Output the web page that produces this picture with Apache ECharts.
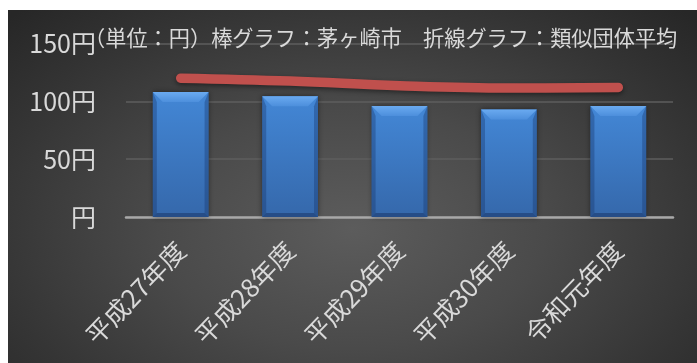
<!DOCTYPE html>
<html>
<head>
<meta charset="utf-8">
<script src="https://cdn.jsdelivr.net/npm/echarts@6/dist/echarts.min.js"></script>
<style>
  html, body { margin: 0; padding: 0; background: #ffffff; }
  #chart {
    position: absolute; left: 8px; top: 10px; width: 689px; height: 353px;
    background: radial-gradient(ellipse 70% 85% at 50% 62%, #5c5c5c 0%, #4a4a4a 40%, #353535 75%, #272727 100%);
  }
</style>
</head>
<body>
<div id="chart"></div>
<script>
// 年度
const categories = ['平成27年度', '平成28年度', '平成29年度', '平成30年度', '令和元年度'];
// 棒グラフ：茅ヶ崎市（円）
const chigasakiValues = [108, 104.5, 96, 93, 96];
// 折線グラフ：類似団体平均（円）
const similarAverage = [120, 117.5, 113.5, 111.5, 112];
// 縦軸の目盛
const yTicks = [0, 50, 100, 150];
const titleText = '（単位：円）棒グラフ：茅ヶ崎市　折線グラフ：類似団体平均';

const FONT = '"Noto Sans CJK JP", "Noto Sans", sans-serif';
const TEXT = '#d9d9d9';

const chart = echarts.init(document.getElementById('chart'), null, { renderer: 'canvas' });

// 立体風の棒（上面・側面の面取り付き）
function renderBevelBar(params, api) {
  const idx = api.value(0);
  const val = api.value(1);
  const top = api.coord([idx, val]);
  const base = api.coord([idx, 0]);
  const w = api.size([1, 0])[0] * 0.51;
  const x0 = top[0] - w / 2, x1 = top[0] + w / 2;
  const y0 = top[1], y1 = base[1];
  const bt = 10, bs = 4, bb = 4;
  return {
    type: 'group',
    children: [
      {
        type: 'rect',
        shape: { x: x0, y: y0, width: w, height: y1 - y0 },
        style: {
          fill: new echarts.graphic.LinearGradient(0, 0, 0, 1, [
            { offset: 0, color: '#4387d6' },
            { offset: 1, color: '#3568ab' }
          ]),
          shadowBlur: 5, shadowColor: 'rgba(0,0,0,0.45)'
        }
      },
      { // 左面
        type: 'polygon',
        shape: { points: [[x0, y0], [x0 + bs, y0 + bt], [x0 + bs, y1 - bb], [x0, y1]] },
        style: { fill: 'rgba(20,50,100,0.35)' }
      },
      { // 右面
        type: 'polygon',
        shape: { points: [[x1, y0], [x1 - bs, y0 + bt], [x1 - bs, y1 - bb], [x1, y1]] },
        style: { fill: 'rgba(20,50,100,0.35)' }
      },
      { // 下面
        type: 'polygon',
        shape: { points: [[x0, y1], [x0 + bs, y1 - bb], [x1 - bs, y1 - bb], [x1, y1]] },
        style: { fill: 'rgba(20,45,90,0.45)' }
      },
      { // 上面
        type: 'polygon',
        shape: { points: [[x0, y0], [x1, y0], [x1 - bt, y0 + bt], [x0 + bt, y0 + bt]] },
        style: {
          fill: new echarts.graphic.LinearGradient(0, 0, 0, 1, [
            { offset: 0, color: '#6aaaf0' },
            { offset: 1, color: '#4d8fdc' }
          ])
        }
      }
    ]
  };
}

chart.setOption({
  backgroundColor: 'transparent',
  animation: false,
  title: {
    text: titleText,
    left: 71,
    top: 11,
    textStyle: { color: TEXT, fontSize: 21.2, fontWeight: 'normal', fontFamily: FONT, lineHeight: 24 }
  },
  grid: { left: 118, right: 24, top: 33.5, bottom: 146 },
  xAxis: {
    type: 'category',
    data: categories,
    axisLine: { show: true, lineStyle: { color: '#a8a8a8', width: 2.5 } },
    axisTick: { show: false },
    splitLine: { show: false },
    axisLabel: {
      interval: 0,
      rotate: 46,
      margin: 29,
      color: TEXT,
      fontSize: 25.5,
      fontFamily: FONT
    }
  },
  yAxis: {
    type: 'value',
    min: yTicks[0],
    max: yTicks[yTicks.length - 1],
    interval: yTicks[1] - yTicks[0],
    axisLine: { show: false },
    axisTick: { show: false },
    splitLine: { lineStyle: { color: '#5e5e5e', width: 1.5 } },
    axisLabel: {
      margin: 30,
      color: TEXT,
      fontSize: 25,
      fontFamily: FONT,
      formatter: v => (v === 0 ? '' : v) + '円'
    }
  },
  series: [
    {
      name: '茅ヶ崎市',
      type: 'custom',
      renderItem: renderBevelBar,
      data: chigasakiValues.map((v, i) => [i, v]),
      encode: { x: 0, y: 1 },
      z: 2
    },
    {
      name: '類似団体平均',
      type: 'line',
      data: similarAverage,
      smooth: 0.4,
      symbol: 'none',
      lineStyle: {
        color: '#c0504d', width: 9.5, cap: 'round', join: 'round',
        shadowBlur: 5, shadowColor: 'rgba(0,0,0,0.45)', shadowOffsetY: 2
      },
      z: 3
    }
  ]
});
</script>
</body>
</html>
